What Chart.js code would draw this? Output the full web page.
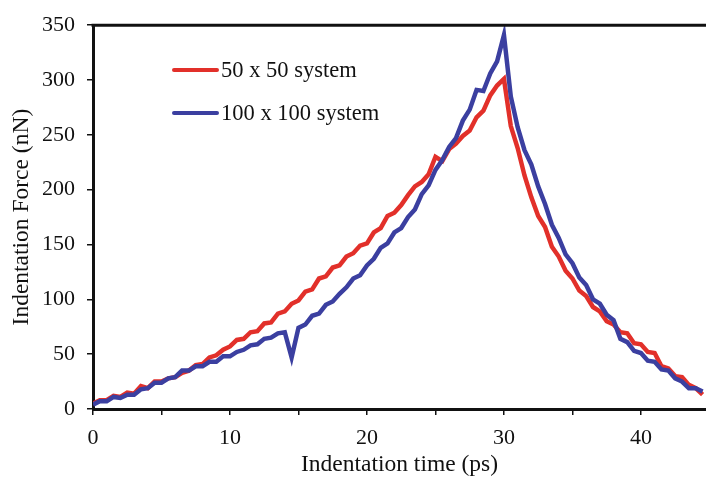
<!DOCTYPE html>
<html lang="en">
<head>
  <meta charset="UTF-8">
  <title>Indentation Force vs Time</title>
  <style>
    body {
      margin: 0;
      padding: 0;
      background: #fff;
    }
  </style>
</head>
<body>
  <canvas id="forceChart" width="706" height="479"></canvas>

  <script src="https://cdn.jsdelivr.net/npm/chart.js"></script>
  <script>
    // Indentation time (ps), every 0.5 ps
    const timePs = [];
    for (let i = 0; i <= 89; i++) timePs.push(i * 0.5);

    // 50 x 50 system (nN)
    const force50 = [
      5, 8, 8, 12, 11, 15, 14, 21, 19, 25,
      25, 28, 29, 33, 35, 40, 41, 47, 49, 54,
      57, 63, 64, 70, 71, 78, 79, 87, 89, 96,
      99, 107, 109, 119, 121, 129, 131, 139, 142, 149,
      151, 161, 165, 176, 179, 186, 195, 203, 207, 214,
      230, 226, 237, 242, 249, 254, 266, 272, 286, 295,
      301, 258, 238, 213, 193, 176, 166, 148, 139, 126,
      119, 108, 103, 93, 89, 80, 77, 70, 69, 60,
      59, 52, 51, 39, 37, 30, 29, 22, 19, 13
    ];

    // 100 x 100 system (nN)
    const force100 = [
      4, 7, 7, 11, 10, 13, 13, 18, 19, 24,
      24, 28, 29, 35, 35, 39, 39, 43, 43, 48,
      48, 52, 54, 58, 59, 64, 65, 69, 70, 47,
      74, 77, 85, 87, 95, 98, 105, 111, 119, 122,
      131, 137, 147, 151, 161, 165, 175, 182, 196, 204,
      218, 227, 239, 247, 263, 273, 291, 290, 306, 317,
      341, 285, 257, 236, 223, 203, 187, 168, 156, 141,
      133, 120, 113, 100, 96, 86, 81, 64, 61, 53,
      51, 44, 43, 36, 35, 28, 25, 19, 19, 16
    ];

    const seriesNames = ['50 x 50 system', '100 x 100 system'];
    const seriesColors = ['#e2302a', '#3b3fa0'];

    const xTicks = [0, 10, 20, 30, 40];
    const yTicks = [0, 50, 100, 150, 200, 250, 300, 350];

    const serif = "'Liberation Serif', 'Times New Roman', serif";

    function toPoints(values) {
      return values.map((v, i) => ({ x: timePs[i], y: v }));
    }

    // frame line on top + legend inside the plot
    const framePlugin = {
      id: 'frame',
      afterDraw(chart) {
        const ctx = chart.ctx;
        const area = chart.chartArea;
        ctx.save();
        ctx.strokeStyle = '#111';
        ctx.lineWidth = 3;
        ctx.beginPath();
        ctx.moveTo(area.left - 1.5, area.top);
        ctx.lineTo(area.right, area.top);
        ctx.stroke();

        ctx.font = '22.5px ' + serif;
        ctx.textBaseline = 'middle';
        ctx.fillStyle = '#111';
        const rows = [70, 113];
        seriesNames.forEach((name, i) => {
          ctx.strokeStyle = seriesColors[i];
          ctx.lineWidth = 4;
          ctx.lineCap = 'round';
          ctx.beginPath();
          ctx.moveTo(174, rows[i]);
          ctx.lineTo(217, rows[i]);
          ctx.stroke();
          ctx.fillText(name, 221, rows[i] + 1);
        });
        ctx.restore();
      }
    };

    const ctx = document.getElementById('forceChart').getContext('2d');
    new Chart(ctx, {
      type: 'line',
      data: {
        datasets: [
          {
            label: seriesNames[0],
            data: toPoints(force50),
            borderColor: seriesColors[0],
            borderWidth: 4.5,
            pointRadius: 0,
            tension: 0,
            order: 2
          },
          {
            label: seriesNames[1],
            data: toPoints(force100),
            borderColor: seriesColors[1],
            borderWidth: 4.5,
            pointRadius: 0,
            tension: 0,
            order: 1
          }
        ]
      },
      options: {
        responsive: false,
        animation: false,
        layout: { padding: { top: 17, right: 0, bottom: 0, left: 0 } },
        scales: {
          x: {
            type: 'linear',
            min: 0,
            max: 44.75,
            afterBuildTicks: scale => {
              scale.ticks = [];
              for (let v = 0; v <= 40; v += 5) scale.ticks.push({ value: v });
            },
            afterFit: scale => { scale.height = 70; },
            ticks: {
              color: '#111',
              padding: 10,
              maxRotation: 0,
              font: { family: serif, size: 22 },
              callback: v => xTicks.includes(v) ? v : ''
            },
            grid: {
              drawOnChartArea: false,
              color: '#111',
              lineWidth: 1.5,
              tickLength: 6
            },
            border: { display: true, color: '#111', width: 3 },
            title: {
              display: true,
              text: 'Indentation time (ps)',
              color: '#111',
              padding: { top: 0, bottom: 0 },
              font: { family: serif, size: 23.5 }
            }
          },
          y: {
            min: 0,
            max: 350,
            afterBuildTicks: scale => {
              scale.ticks = [];
              for (let v = 0; v <= 350; v += 25) scale.ticks.push({ value: v });
            },
            afterFit: scale => { scale.width = 93; },
            ticks: {
              color: '#111',
              padding: 12,
              font: { family: serif, size: 22 },
              callback: v => yTicks.includes(v) ? v : ''
            },
            grid: {
              drawOnChartArea: false,
              color: '#111',
              lineWidth: 1.5,
              tickLength: 6
            },
            border: { display: true, color: '#111', width: 3 },
            title: {
              display: true,
              text: 'Indentation Force (nN)',
              color: '#111',
              padding: { top: 8, bottom: 0 },
              font: { family: serif, size: 23.5 }
            }
          }
        },
        plugins: {
          legend: { display: false },
          tooltip: { enabled: false }
        }
      },
      plugins: [framePlugin]
    });
  </script>
</body>
</html>
